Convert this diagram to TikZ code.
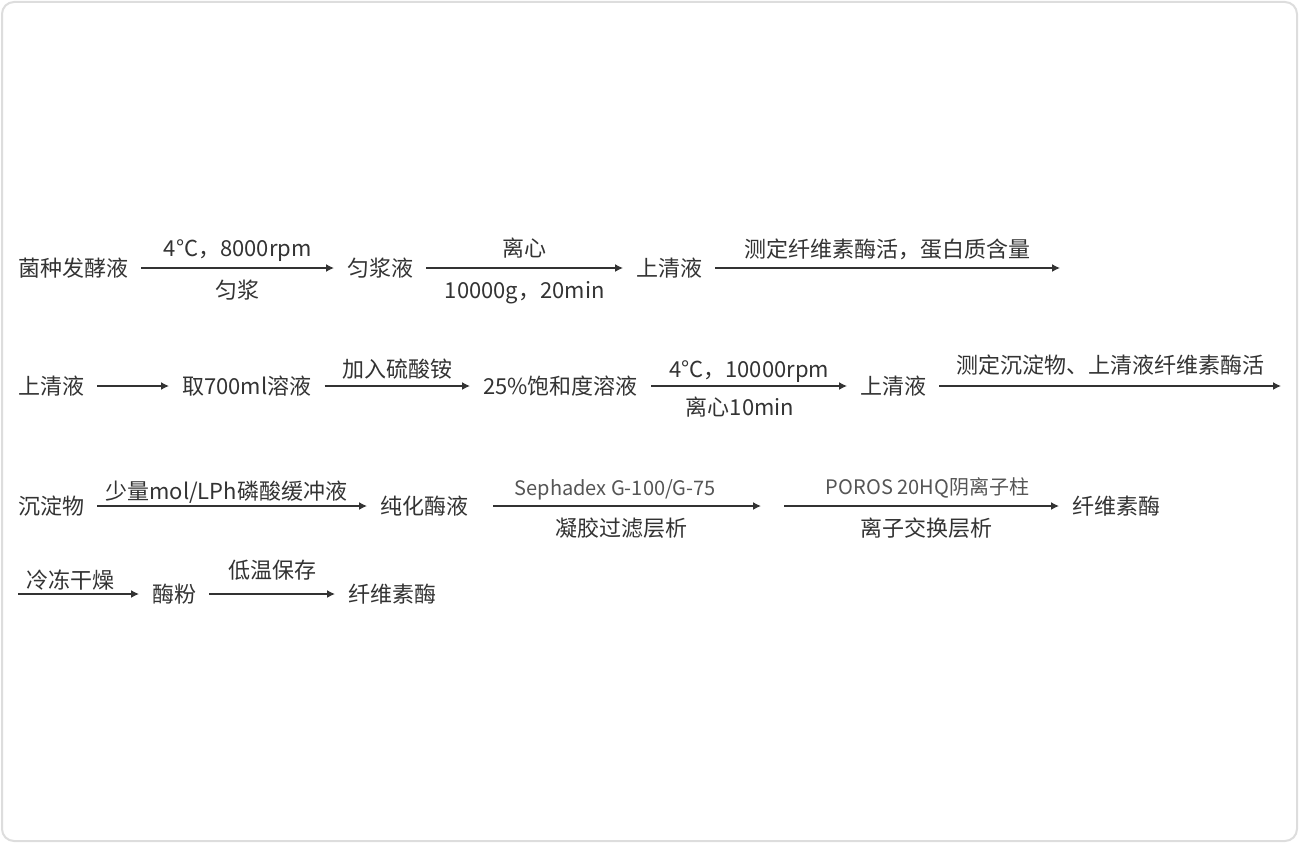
\documentclass[tikz,border=0pt]{standalone}
\usepackage{fontspec}
\usetikzlibrary{arrows.meta}
\setmainfont{Noto Sans CJK SC}
\definecolor{ink}{HTML}{333333}
\definecolor{labgrey}{HTML}{555555}
\definecolor{framegrey}{HTML}{DDDDDD}
\begin{document}
\begin{tikzpicture}[x=1pt, y=-1pt,
        every node/.style={font=\fontsize{22pt}{26pt}\selectfont, text=ink, text height=18pt, text depth=1.5pt, inner ysep=0pt},
        stage/.style={anchor=west, inner xsep=13pt},
        flow/.style={-{Latex[length=8pt, width=8pt]}, line width=1.4pt, draw=ink},
        lab/.style={midway, inner xsep=2pt},
        greylab/.style={lab, text=labgrey, fill=white, font=\fontsize{20pt}{24pt}\selectfont, text height=16.5pt, text depth=1.4pt}]
    \useasboundingbox (0, 0) rectangle (1299, 843);
    \draw[framegrey, line width=2pt, rounded corners=12pt, fill=white] (2, 2) rectangle (1297, 841);

    % row 1
    \node[stage] (ferment) at (5, 268) {菌种发酵液};
    \node[stage] (slurry) at (334, 268) {匀浆液};
    \node[stage] (super1) at (623, 268) {上清液};
    \coordinate (end1) at (1060, 268);
    \draw[flow] (ferment) -- (slurry) node[lab, yshift=20pt] {4°C，8000rpm} node[lab, yshift=-22pt] {匀浆};
    \draw[flow] (slurry) -- (super1) node[lab, yshift=20pt] {离心} node[lab, yshift=-22pt] {10000g，20min};
    \draw[flow] (super1) -- (end1) node[lab, yshift=19pt] {测定纤维素酶活，蛋白质含量};

    % row 2
    \node[stage] (super2) at (5, 386) {上清液};
    \node[stage] (take) at (169, 386) {取700ml溶液};
    \node[stage] (satur) at (470, 386) {25\%饱和度溶液};
    \node[stage] (super3) at (847, 386) {上清液};
    \coordinate (end2) at (1281, 386);
    \draw[flow] (super2) -- (take);
    \draw[flow] (take) -- (satur) node[lab, yshift=17pt] {加入硫酸铵};
    \draw[flow] (satur) -- (super3) node[lab, yshift=17pt] {4°C，10000rpm} node[lab, yshift=-21pt, xshift=-9pt] {离心10min};
    \draw[flow] (super3) -- (end2) node[lab, yshift=21pt] {测定沉淀物、上清液纤维素酶活};

    % row 3
    \node[stage] (precip) at (5, 506) {沉淀物};
    \node[stage] (pure) at (367, 506) {纯化酶液};
    \coordinate (gelend) at (761, 506);
    \coordinate (ionstart) at (784, 506);
    \node[stage] (enzyme1) at (1059, 506) {纤维素酶};
    \draw[flow] (precip) -- (pure) node[lab, yshift=15pt, xshift=-6pt] {少量mol/LPh磷酸缓冲液};
    \draw[flow, shorten <=12pt] (pure) -- (gelend) node[greylab, yshift=18pt, xshift=-6pt] {Sephadex G-100/G-75} node[lab, yshift=-22pt] {凝胶过滤层析};
    \draw[flow] (ionstart) -- (enzyme1) node[greylab, yshift=19pt, xshift=6pt] {POROS 20HQ阴离子柱} node[lab, yshift=-22pt, xshift=5pt] {离子交换层析};

    % row 4
    \coordinate (drystart) at (18, 594);
    \node[stage] (powder) at (139, 594) {酶粉};
    \node[stage] (enzyme2) at (335, 594) {纤维素酶};
    \draw[flow] (drystart) -- (powder) node[lab, yshift=14pt, xshift=-8pt] {冷冻干燥};
    \draw[flow] (powder) -- (enzyme2) node[lab, yshift=24pt] {低温保存};
\end{tikzpicture}
\end{document}
